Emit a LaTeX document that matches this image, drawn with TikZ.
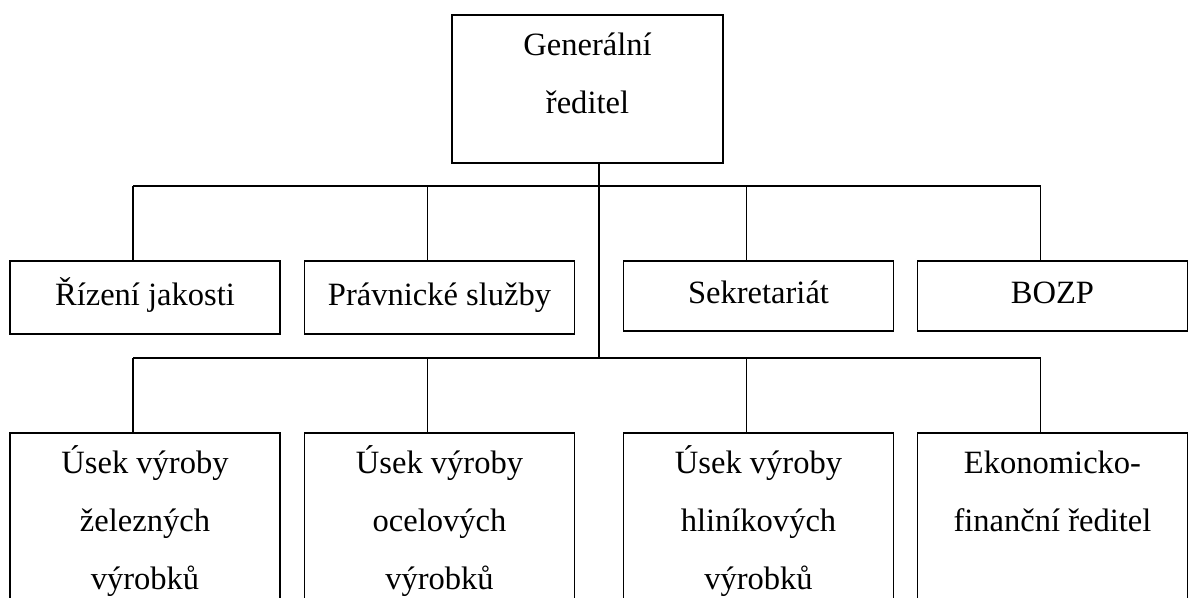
\documentclass[tikz,border=0pt]{standalone}
\usepackage{fontspec}
\setmainfont{Liberation Serif}
\usetikzlibrary{positioning}
\newcommand\firstln{\rule{0pt}{23pt}}

\begin{document}
\begin{tikzpicture}[x=0.75pt,y=-0.75pt,line width=1.4pt]
  \tikzstyle{unit}=[draw=black,line width=1.4pt,anchor=north,
    minimum width=202.5pt,inner sep=0pt,
    font=\fontsize{24.4}{43.5}\selectfont]
  \tikzstyle{unittext}=[inner sep=0pt,align=center,
    font=\fontsize{24.4}{43.5}\selectfont]
  \useasboundingbox (0,0) rectangle (1189,598);
  \clip (0,0) rectangle (1189,598);
  % top
  \node[unit,minimum width=203.25pt,minimum height=111pt] (gr) at (587.5,14) {};
  \node[unittext,below=7.75pt of gr.north] (grt) {\firstln Generální\\ředitel};
  % staff units
  \node[unit,minimum height=54.75pt,text height=18pt,text depth=6pt] (rq) at (145,260) {Řízení jakosti};
  \node[unit,minimum height=54.75pt,text height=18pt,text depth=6pt] (ps) at (439.5,260) {Právnické služby};
  \node[unit,minimum height=52.5pt,text height=18pt,text depth=6pt] (sk) at (758.5,260) {Sekretariát};
  \node[unit,minimum height=52.5pt,text height=18pt,text depth=6pt] (bozp) at (1052.5,260) {BOZP};
  % line units
  \node[unit,minimum height=170pt] (zel) at (145,432) {};
  \node[unit,minimum height=170pt] (ocel) at (439.5,432) {};
  \node[unit,minimum height=170pt] (hlin) at (758.5,432) {};
  \node[unit,minimum height=170pt] (ekon) at (1052.5,432) {};
  \node[unittext,below=7.75pt of zel.north] (zelt) {\firstln Úsek výroby\\železných\\výrobků};
  \node[unittext,below=7.75pt of ocel.north] (ocelt) {\firstln Úsek výroby\\ocelových\\výrobků};
  \node[unittext,below=7.75pt of hlin.north] (hlint) {\firstln Úsek výroby\\hliníkových\\výrobků};
  \node[unittext,below=7.75pt of ekon.north] (ekont) {\firstln Ekonomicko-\\finanční ředitel};
  % connectors
  \coordinate (bus1) at (599,186);
  \coordinate (bus2) at (599,358);
  \draw (gr.south -| bus1) -- (bus2);
  \draw ([xshift=-9pt]rq.north |- bus1) -- ([xshift=-9pt]bozp.north |- bus1);
  \draw ([xshift=-9pt]zel.north |- bus2) -- ([xshift=-9pt]ekon.north |- bus2);
  \foreach \b in {rq,ps,sk,bozp}
    \draw ([xshift=-9pt]\b.north) -- ([xshift=-9pt]\b.north |- bus1);
  \foreach \b in {zel,ocel,hlin,ekon}
    \draw ([xshift=-9pt]\b.north) -- ([xshift=-9pt]\b.north |- bus2);
\end{tikzpicture}
\end{document}
